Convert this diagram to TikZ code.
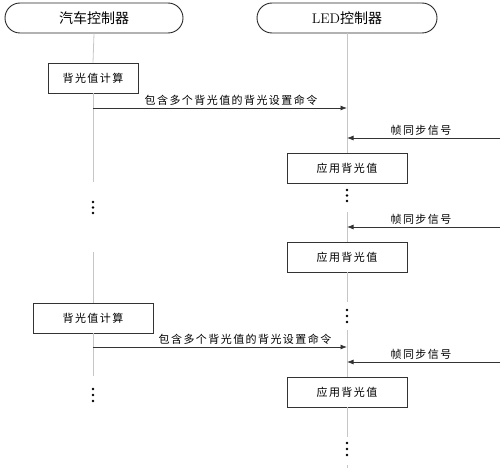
\documentclass[tikz,border=0pt]{standalone}
\usepackage{fontspec}
\newfontfamily\cjk{Noto Sans CJK SC}
\newfontfamily\cjkw[LetterSpace=13]{Noto Sans CJK SC}
\usetikzlibrary{arrows.meta}
\begin{document}
\begin{tikzpicture}[x=1pt,y=-1pt,
 life/.style={draw=gray!45, line width=0.8pt},
 box/.style={draw=black!80, line width=0.8pt, minimum height=30pt, inner sep=0pt, font=\cjkw\fontsize{11}{11}\selectfont},
 head/.style={draw=black!85, line width=0.9pt, rounded corners=15pt, minimum height=30pt, inner sep=0pt, font=\fontsize{14}{14}\selectfont},
 msg/.style={draw=black!80, line width=0.8pt, -{Latex[length=6.5pt,width=5pt]}},
 lbl/.style={font=\cjkw\fontsize{11}{11}\selectfont, inner sep=1pt},
 dotn/.style={circle, fill=black, inner sep=0pt, minimum size=2.6pt}]
\useasboundingbox (0,0) rectangle (500,468);
% headers
\node[head, minimum width=178pt] (car) at (94,18) {\cjk 汽车控制器};
\node[head, minimum width=180pt] (led) at (347,18) {LED{\cjk 控制器}};
% boxes
\node[box, minimum width=90pt] (calc1) at (93,78) {背光值计算};
\node[box, minimum width=120pt] (calc2) at (93,318) {背光值计算};
\node[box, minimum width=120pt] (app1) at (347,168) {应用背光值};
\node[box, minimum width=120pt] (app2) at (347,257) {应用背光值};
\node[box, minimum width=120pt] (app3) at (347,392) {应用背光值};
% lifeline coordinates
\coordinate (La) at (93,182);
\coordinate (Lb) at (93,252);
\coordinate (Lc) at (93,376);
\coordinate (Ra) at (347,212);
\coordinate (Rb) at (347,302);
\coordinate (Rc) at (347,330);
\coordinate (Rd) at (347,437);
\coordinate (Re) at (347,465);
\coordinate (Rf) at (347,468);
% left lifeline
\draw[life] (car.south) -- (calc1.north);
\draw[life] (calc1.south) -- (La);
\draw[life] (Lb) -- (calc2.north);
\draw[life] (calc2.south) -- (Lc);
% right lifeline
\draw[life] (led.south) -- (app1.north);
\draw[life] (Ra) -- (app2.north);
\draw[life] (app2.south) -- (Rb);
\draw[life] (Rc) -- (app3.north);
\draw[life] (app3.south) -- (Rd);
\draw[life] (Re) -- (Rf);
% dots
\foreach \i/\x/\y in {1/93/202, 2/93/207.5, 3/93/213, 4/93/389, 5/93/395, 6/93/401,
  7/347/190, 8/347/195.5, 9/347/201, 10/347/310, 11/347/316, 12/347/322,
  13/347/443, 14/347/449, 15/347/455}
  \node[dotn] (d\i) at (\x,\y) {};
% messages
\coordinate (m1s) at (93,108); \coordinate (m1e) at (347,108);
\coordinate (m2s) at (93,347); \coordinate (m2e) at (347,347);
\coordinate (f1s) at (500,138); \coordinate (f1e) at (347,138);
\coordinate (f2s) at (500,227); \coordinate (f2e) at (347,227);
\coordinate (f3s) at (500,362); \coordinate (f3e) at (347,362);
\draw[msg] (m1s) -- (m1e);
\draw[msg] (m2s) -- (m2e);
\draw[msg] (f1s) -- (f1e);
\draw[msg] (f2s) -- (f2e);
\draw[msg] (f3s) -- (f3e);
\node[lbl] (l1) at (231,100) {包含多个背光值的背光设置命令};
\node[lbl] (l2) at (245,339) {包含多个背光值的背光设置命令};
\node[lbl] (fl1) at (421,130) {帧同步信号};
\node[lbl] (fl2) at (421,219) {帧同步信号};
\node[lbl] (fl3) at (421,354) {帧同步信号};
\end{tikzpicture}
\end{document}
